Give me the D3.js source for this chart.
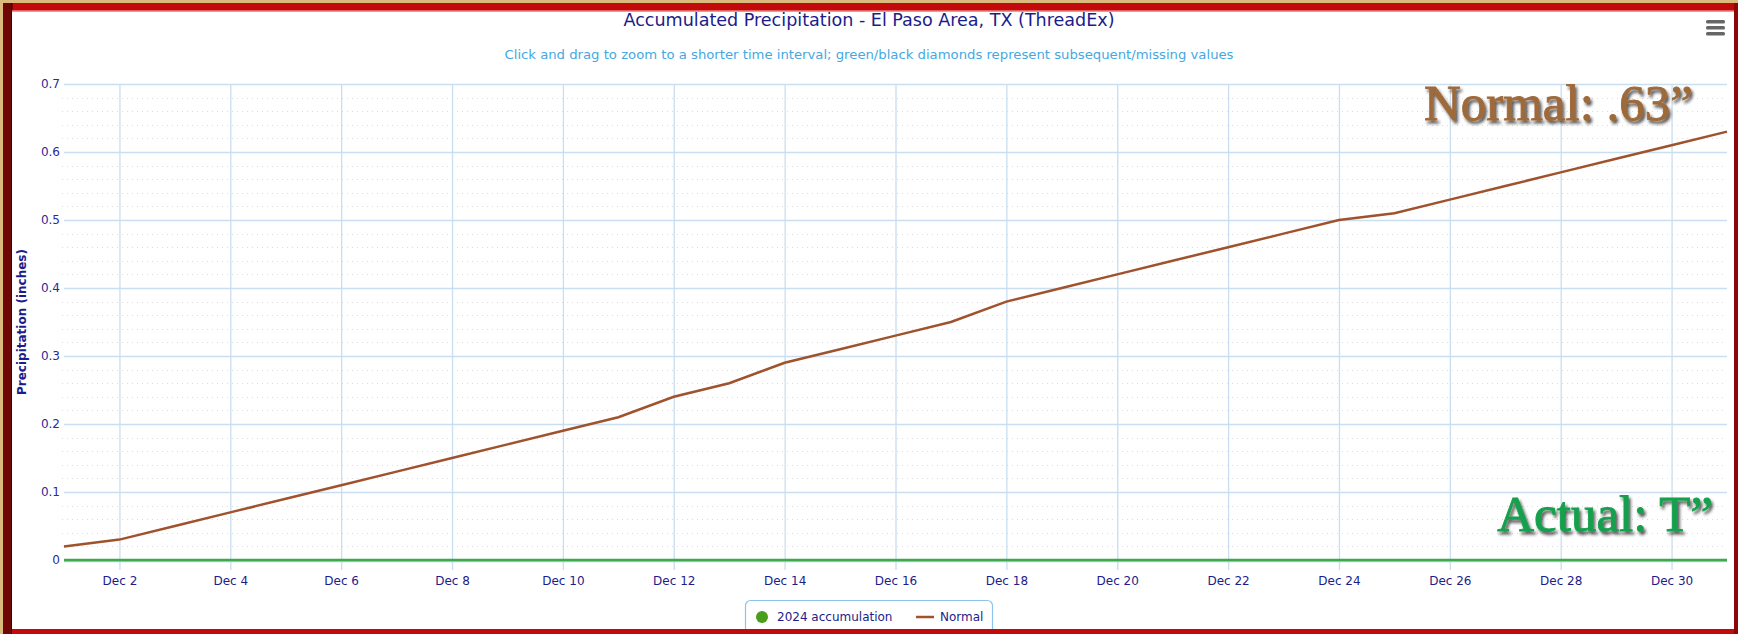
<!DOCTYPE html>
<html>
<head>
<meta charset="utf-8">
<script src="https://cdn.jsdelivr.net/npm/d3@7"></script>
<style>
  body { margin: 0; background: #dcb97c; }
  svg { display: block; }
  text { font-family: "DejaVu Sans", Verdana, sans-serif; }
</style>
</head>
<body>
<svg id="chart"></svg>
<script>
// chart data
const DAYS = [1, 2, 3, 4, 5, 6, 7, 8, 9, 10, 11, 12, 13, 14, 15, 16, 17, 18, 19, 20, 21, 22, 23, 24, 25, 26, 27, 28, 29, 30, 31];
const NORMAL = [0.02, 0.03, 0.05, 0.07, 0.09, 0.11, 0.13, 0.15, 0.17, 0.19, 0.21, 0.24, 0.26, 0.29, 0.31, 0.33,
  0.35, 0.38, 0.40, 0.42, 0.44, 0.46, 0.48, 0.50, 0.51, 0.53, 0.55, 0.57, 0.59, 0.61, 0.63];
const ACTUAL = [0, 0, 0, 0, 0, 0, 0, 0, 0, 0, 0, 0, 0, 0, 0, 0, 0, 0, 0, 0, 0, 0, 0, 0, 0, 0, 0, 0, 0, 0, 0];
const X_TICK_DAYS = [2, 4, 6, 8, 10, 12, 14, 16, 18, 20, 22, 24, 26, 28, 30];
const Y_TICKS = [0, 0.1, 0.2, 0.3, 0.4, 0.5, 0.6, 0.7];

const width = 1738, height = 634;
const plot = { left: 64, right: 1727, top: 84, bottom: 560 };

const svg = d3.select("#chart").attr("width", width).attr("height", height);

const day = d => new Date(Date.UTC(2024, 11, d));

const x = d3.scaleUtc()
  .domain([day(1), day(31)])
  .range([plot.left, plot.right]);

const y = d3.scaleLinear()
  .domain([0, 0.7])
  .range([plot.bottom, plot.top]);

// filters
const defs = svg.append("defs");
const shadow = defs.append("filter").attr("id", "shadow")
  .attr("x", "-10%").attr("y", "-20%").attr("width", "130%").attr("height", "160%");
shadow.append("feDropShadow")
  .attr("dx", 2).attr("dy", 3).attr("stdDeviation", 1.6)
  .attr("flood-color", "#222").attr("flood-opacity", 0.75);

// frame
svg.append("rect").attr("x", 3).attr("y", 3).attr("width", width - 3).attr("height", height - 3).attr("fill", "#c20a0a");
svg.append("rect").attr("x", 3).attr("y", 3).attr("width", 9).attr("height", height - 3).attr("fill", "#6e0606");
svg.append("rect").attr("x", 11).attr("y", 3).attr("width", 1.5).attr("height", height - 3).attr("fill", "#3a0000");
svg.append("rect").attr("x", 1734).attr("y", 3).attr("width", 4).attr("height", height - 3).attr("fill", "#8a0808");
svg.append("rect").attr("x", 12).attr("y", 10).attr("width", 1722).attr("height", 1.5).attr("fill", "#e06060");
svg.append("rect").attr("x", 12).attr("y", 11.5).attr("width", 1722).attr("height", 617.5).attr("fill", "#fff");

// minor grid
const minorTicks = d3.range(0.02, 0.7, 0.02).filter(v => Math.abs(v * 10 - Math.round(v * 10)) > 0.01);
svg.append("g")
  .selectAll("line")
  .data(minorTicks)
  .join("line")
  .attr("x1", plot.left - 2).attr("x2", plot.right)
  .attr("y1", d => Math.round(y(d)) + 0.5).attr("y2", d => Math.round(y(d)) + 0.5)
  .attr("stroke", "#dcdcdc")
  .attr("stroke-dasharray", "1,4");

// major horizontal grid
svg.append("g")
  .attr("transform", `translate(${plot.left},0)`)
  .call(d3.axisLeft(y).tickValues(Y_TICKS).tickSize(-(plot.right - plot.left)).tickFormat(""))
  .call(g => g.select(".domain").remove())
  .call(g => g.selectAll("line").attr("stroke", "#c9def0").attr("stroke-width", 1.3));

// vertical grid + ticks
svg.append("g")
  .attr("transform", `translate(0,${plot.bottom + 10})`)
  .call(d3.axisBottom(x).tickValues(X_TICK_DAYS.map(day)).tickSize(-(plot.bottom + 10 - plot.top)).tickFormat(""))
  .call(g => g.select(".domain").remove())
  .call(g => g.selectAll("line").attr("stroke", "#c9def0").attr("stroke-width", 1.3));

// x axis labels
svg.append("g")
  .attr("transform", `translate(0,${plot.bottom + 10})`)
  .call(d3.axisBottom(x).tickValues(X_TICK_DAYS.map(day)).tickSize(0).tickPadding(6)
    .tickFormat(d3.utcFormat("Dec %-d")))
  .call(g => g.select(".domain").remove())
  .call(g => g.selectAll("text").attr("fill", "#1c1c8a").style("font-size", "12px"));

// y axis labels
svg.append("g")
  .attr("transform", `translate(${plot.left - 4},0)`)
  .call(d3.axisLeft(y).tickValues(Y_TICKS).tickSize(0).tickPadding(0)
    .tickFormat(d => d === 0 ? "0" : d3.format(".1f")(d)))
  .call(g => g.select(".domain").remove())
  .call(g => g.selectAll("text").attr("fill", "#2a2aa0").style("font-size", "12px"));

// axis title
svg.append("text")
  .attr("transform", `translate(26,${(plot.top + plot.bottom) / 2}) rotate(-90)`)
  .attr("text-anchor", "middle")
  .attr("fill", "#1c1c8a")
  .style("font-size", "12px")
  .style("font-weight", "bold")
  .text("Precipitation (inches)");

// x axis line
svg.append("line")
  .attr("x1", plot.left).attr("x2", plot.right)
  .attr("y1", plot.bottom + 1.5).attr("y2", plot.bottom + 1.5)
  .attr("stroke", "#a9d0e8").attr("stroke-width", 1.5);

// series
const line = d3.line()
  .x((d, i) => x(day(DAYS[i])))
  .y(d => y(d));

svg.append("path")
  .datum(ACTUAL)
  .attr("d", line)
  .attr("fill", "none")
  .attr("stroke", "#3fa84a")
  .attr("stroke-width", 2.5);

svg.append("path")
  .datum(NORMAL)
  .attr("d", line)
  .attr("fill", "none")
  .attr("stroke", "#a0522d")
  .attr("stroke-width", 2.5);

// titles
svg.append("text")
  .attr("x", 869).attr("y", 26)
  .attr("text-anchor", "middle")
  .attr("fill", "#1c1c8a")
  .style("font-family", "'DejaVu Sans Condensed', 'DejaVu Sans', sans-serif")
  .style("font-size", "17px")
  .attr("textLength", 491).attr("lengthAdjust", "spacingAndGlyphs")
  .text("Accumulated Precipitation - El Paso Area, TX (ThreadEx)");

svg.append("text")
  .attr("x", 869).attr("y", 59)
  .attr("text-anchor", "middle")
  .attr("fill", "#45a8e2")
  .style("font-size", "12px")
  .attr("textLength", 729).attr("lengthAdjust", "spacingAndGlyphs")
  .text("Click and drag to zoom to a shorter time interval; green/black diamonds represent subsequent/missing values");

// menu icon
svg.append("g")
  .selectAll("rect")
  .data([0, 1, 2])
  .join("rect")
  .attr("x", 1706).attr("y", d => 20 + d * 6)
  .attr("width", 19).attr("height", 3.5).attr("rx", 1.5)
  .attr("fill", "#666");

// overlay annotations
svg.append("text")
  .attr("x", 1693).attr("y", 120)
  .attr("text-anchor", "end")
  .attr("fill", "#9e6a3a")
  .attr("stroke", "#9e6a3a").attr("stroke-width", 0.9)
  .attr("filter", "url(#shadow)")
  .style("font-family", "'Liberation Serif', 'DejaVu Serif', serif")
  .style("font-size", "51px")
  .text("Normal: .63\u201D");

svg.append("text")
  .attr("x", 1713).attr("y", 531)
  .attr("text-anchor", "end")
  .attr("fill", "#14a04e")
  .attr("stroke", "#14a04e").attr("stroke-width", 0.9)
  .attr("filter", "url(#shadow)")
  .style("font-family", "'Liberation Serif', 'DejaVu Serif', serif")
  .style("font-size", "51px")
  .text("Actual: T\u201D");

// legend
const legend = svg.append("g");
legend.append("rect")
  .attr("x", 745.5).attr("y", 600.5).attr("width", 247).attr("height", 40).attr("rx", 5)
  .attr("fill", "#fff").attr("stroke", "#8cc4ec").attr("stroke-width", 1.2);
legend.append("circle")
  .attr("cx", 762).attr("cy", 617).attr("r", 6)
  .attr("fill", "#4a9e1c");
legend.append("text")
  .attr("x", 777).attr("y", 621)
  .attr("fill", "#1c1c8a").style("font-size", "12px")
  .text("2024 accumulation");
legend.append("line")
  .attr("x1", 916).attr("x2", 934).attr("y1", 617).attr("y2", 617)
  .attr("stroke", "#a0522d").attr("stroke-width", 2.5);
legend.append("text")
  .attr("x", 940).attr("y", 621)
  .attr("fill", "#1c1c8a").style("font-size", "12px")
  .text("Normal");

// bottom frame over the legend
svg.append("rect").attr("x", 12).attr("y", 629).attr("width", 1722).attr("height", 5).attr("fill", "#c20a0a");
</script>
</body>
</html>
